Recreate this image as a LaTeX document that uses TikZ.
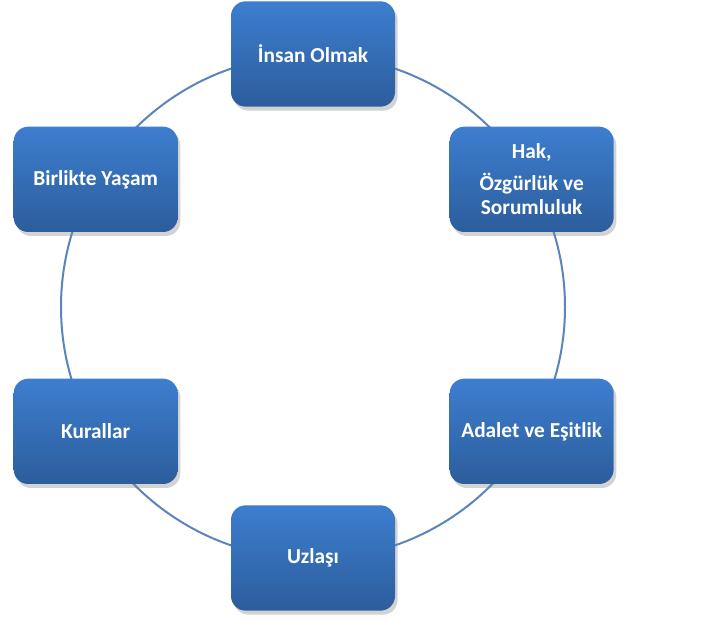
\documentclass[tikz,border=0pt]{standalone}
\usepackage{fontspec}
\setmainfont{Carlito}
\usetikzlibrary{shadows}
\definecolor{kutuust}{HTML}{3D7ECF}
\definecolor{kutualt}{HTML}{2C5D9C}
\definecolor{cember}{HTML}{5A84BA}
\tikzset{
    konu/.style={rectangle,rounded corners=11pt,minimum width=123pt,minimum height=79pt,
        top color=kutuust,bottom color=kutualt,text=white,font=\bfseries\fontsize{16}{18}\selectfont,
        align=center,drop shadow={shadow xshift=2pt,shadow yshift=-3pt,opacity=0.35}},
}
\begin{document}
\begin{tikzpicture}[x=0.75pt,y=-0.75pt]
    \useasboundingbox (0,0) rectangle (708,620);
    \coordinate (merkez) at (313,307);
    \draw[cember,line width=1.5pt] (merkez) circle (252);

    \node[konu] (insan) at (313,54) {İnsan Olmak} ;
    \node[konu,xshift=164pt,yshift=-94pt] (hak) at (insan) {Hak,\\[6pt]Özgürlük ve\\Sorumluluk} ;
    \node[konu,xshift=-163pt,yshift=-94pt] (birlikte) at (insan) {Birlikte Yaşam} ;
    \node[konu,yshift=-189pt] (kurallar) at (birlikte) {Kurallar} ;
    \node[konu,yshift=-189pt] (adalet) at (hak) {Adalet ve Eşitlik} ;
    \node[konu,xshift=-164pt,yshift=-95pt] (uzlasi) at (adalet) {Uzlaşı} ;
\end{tikzpicture}
\end{document}
